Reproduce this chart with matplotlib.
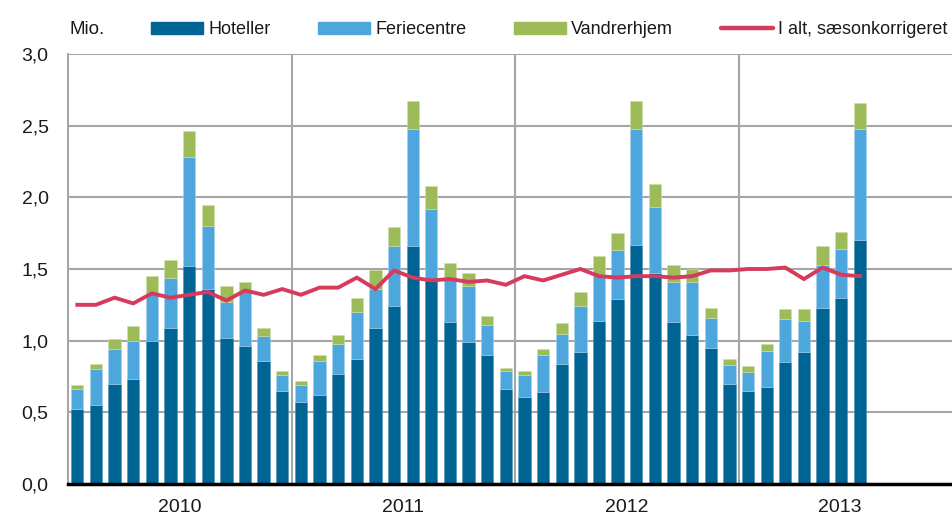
import numpy as np
import matplotlib
matplotlib.use("Agg")
import matplotlib.pyplot as plt
from matplotlib.patches import Patch
from matplotlib.lines import Line2D

plt.rcParams["font.family"] = ["Liberation Sans", "DejaVu Sans"]

# --- Data: overnight stays (mio.), Jan 2010 - Jul 2013 ---
hoteller = [
    0.52, 0.55, 0.70, 0.73, 1.00, 1.09, 1.52, 1.36, 1.02, 0.96, 0.86, 0.65,
    0.57, 0.62, 0.77, 0.87, 1.09, 1.24, 1.66, 1.42, 1.13, 0.99, 0.90, 0.66,
    0.61, 0.64, 0.84, 0.92, 1.14, 1.29, 1.67, 1.47, 1.13, 1.04, 0.95, 0.70,
    0.65, 0.68, 0.85, 0.92, 1.23, 1.30, 1.70,
]
feriecentre_top = [
    0.66, 0.80, 0.94, 1.00, 1.33, 1.44, 2.28, 1.80, 1.27, 1.35, 1.03, 0.76,
    0.69, 0.86, 0.98, 1.20, 1.36, 1.66, 2.48, 1.92, 1.44, 1.38, 1.11, 0.79,
    0.76, 0.90, 1.05, 1.24, 1.46, 1.63, 2.48, 1.93, 1.41, 1.41, 1.16, 0.83,
    0.78, 0.93, 1.15, 1.14, 1.53, 1.64, 2.48,
]
total_top = [
    0.69, 0.84, 1.01, 1.10, 1.45, 1.56, 2.46, 1.95, 1.38, 1.41, 1.09, 0.79,
    0.72, 0.90, 1.04, 1.30, 1.49, 1.79, 2.67, 2.08, 1.54, 1.47, 1.17, 0.81,
    0.79, 0.94, 1.12, 1.34, 1.59, 1.75, 2.67, 2.09, 1.53, 1.50, 1.23, 0.87,
    0.82, 0.98, 1.22, 1.22, 1.66, 1.76, 2.66,
]
saeson = [
    1.25, 1.25, 1.30, 1.26, 1.33, 1.30, 1.32, 1.34, 1.28, 1.35, 1.32, 1.36,
    1.32, 1.37, 1.37, 1.44, 1.36, 1.49, 1.44, 1.42, 1.43, 1.41, 1.42, 1.39,
    1.45, 1.42, 1.46, 1.50, 1.45, 1.44, 1.45, 1.45, 1.44, 1.45, 1.49, 1.49,
    1.50, 1.50, 1.51, 1.43, 1.51, 1.46, 1.45,
]
years = ["2010", "2011", "2012", "2013"]
year_pos = [5.5, 17.5, 29.5, 40.9]
yticks = [0.0, 0.5, 1.0, 1.5, 2.0, 2.5, 3.0]

hoteller = np.array(hoteller)
feriecentre = np.array(feriecentre_top) - hoteller
vandrerhjem = np.array(total_top) - np.array(feriecentre_top)

C_HOT = "#006494"
C_FER = "#4da6dc"
C_VAN = "#9dbb59"
C_RED = "#d63b5c"
C_GRID = "#a6a6a6"

fig = plt.figure(figsize=(9.53, 5.18), dpi=100)
ax = fig.add_axes([68 / 953, 34 / 518, 1 - 68 / 953, 430 / 518])

x = np.arange(len(hoteller))
w = 0.66
ax.bar(x, hoteller, w, color=C_HOT, edgecolor="#4f8fb5", linewidth=0.4, zorder=2)
ax.bar(x, feriecentre, w, bottom=hoteller, color=C_FER, edgecolor="#a8d3ee",
       linewidth=0.4, zorder=2)
ax.bar(x, vandrerhjem, w, bottom=hoteller + feriecentre, color=C_VAN,
       edgecolor="#cfe0a8", linewidth=0.4, zorder=2)
ax.plot(x, saeson, color=C_RED, lw=2.8, solid_joinstyle="miter", zorder=3)

ax.set_xlim(-0.5, 47.0)
ax.set_ylim(0, 3.0)
ax.set_yticks(yticks)
ax.set_yticklabels([f"{v:.1f}".replace(".", ",") for v in yticks])
ax.set_xticks(year_pos)
ax.set_xticklabels(years)
ax.tick_params(axis="both", length=0, labelsize=14, colors="#1a1a1a")
ax.tick_params(axis="y", pad=14)
ax.tick_params(axis="x", pad=11)

ax.yaxis.grid(True, color=C_GRID, lw=1.5, zorder=0)
for b in [11.5, 23.5, 35.5]:
    ax.axvline(b, color=C_GRID, lw=1.5, zorder=0)

for s in ["top", "right"]:
    ax.spines[s].set_visible(False)
ax.spines["left"].set_color(C_GRID)
ax.spines["left"].set_linewidth(1.5)
ax.spines["bottom"].set_color("black")
ax.spines["bottom"].set_linewidth(2.5)
ax.spines["bottom"].set_zorder(4)

fig.text(70 / 953, 1 - 30 / 518, "Mio.", fontsize=13.5, va="center", ha="left",
         color="#1a1a1a")

handles = [
    Patch(color=C_HOT),
    Patch(color=C_FER),
    Patch(color=C_VAN),
    Line2D([0], [0], color=C_RED, lw=3.2, solid_capstyle="round"),
]
labels = ["Hoteller", "Feriecentre", "Vandrerhjem", "I alt, sæsonkorrigeret"]
fig.legend(handles, labels, loc="center left", ncol=4, frameon=False,
           bbox_to_anchor=(151 / 953, 1 - 30 / 518), fontsize=13,
           handlelength=2.88, handleheight=0.65, handletextpad=0.28,
           columnspacing=2.65, borderpad=0, borderaxespad=0,
           labelcolor="#1a1a1a")

fig.savefig("out.png", dpi=100)
